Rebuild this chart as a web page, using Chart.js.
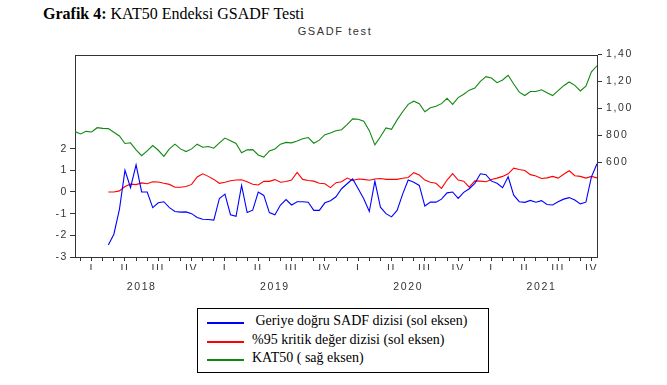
<!DOCTYPE html>
<html>
<head>
<meta charset="utf-8">
<script src="https://cdn.jsdelivr.net/npm/chart.js@4.4.1/dist/chart.umd.min.js"></script>
<style>
  body { margin: 0; background: #fff; width: 667px; height: 385px; position: relative; overflow: hidden; }
  #ttl { position: absolute; left: 43px; top: 5px; font: 16px "Liberation Serif", serif; color: #000; white-space: nowrap; }
  #sub { position: absolute; left: 0; width: 670px; top: 25px; text-align: center; font: 11px "Liberation Sans", sans-serif; letter-spacing: 1.6px; color: #333; }
  #wrap { position: absolute; left: 0; top: 0; width: 667px; height: 300px; }
  #leg { position: absolute; left: 197px; top: 308px; width: 292px; height: 65px; border: 1px solid #000; box-sizing: border-box; font: 14px "Liberation Serif", serif; color: #000; }
  .row { position: absolute; left: 0; height: 18px; white-space: nowrap; }
  .row span.ln { position: absolute; left: 9px; top: 9px; width: 37px; height: 1.6px; }
  .row span.tx { position: absolute; left: 54px; top: 0; }
</style>
</head>
<body>
<div id="ttl"><b>Grafik 4:</b> KAT50 Endeksi GSADF Testi</div>
<div id="sub">GSADF test</div>
<div id="wrap"><canvas id="c" width="667" height="300"></canvas></div>
<div id="leg">
  <div class="row" style="top:4px"><span class="ln" style="background:#0000ff"></span><span class="tx">&nbsp;Geriye doğru SADF dizisi (sol eksen)</span></div>
  <div class="row" style="top:23px"><span class="ln" style="background:#ff0000"></span><span class="tx">%95 kritik değer dizisi (sol eksen)</span></div>
  <div class="row" style="top:41px"><span class="ln" style="background:#118811"></span><span class="tx">KAT50 ( sağ eksen)</span></div>
</div>
<script>
// half-month steps starting Jan 2018
const STEP = 0.5;
const quarterLabels = ["I", "II", "III", "IV"];
const yearLabels = ["2018", "2019", "2020", "2021"];
const rightTicks = [600, 800, 1000, 1200, 1400];
const rightLabels = ["600", "800", "1,00", "1,20", "1,40"];
const leftTicks = [-3, -2, -1, 0, 1, 2];

// KAT50 (right axis)
const kat50 = [
  828, 811, 830, 825, 857, 852, 850, 823, 796, 740,
  745, 693, 650, 685, 725, 690, 645, 700, 735, 700,
  680, 700, 735, 712, 718, 705, 745, 780, 760, 740,
  672, 693, 695, 655, 640, 685, 700, 735, 748, 745,
  759, 775, 784, 742, 765, 805, 818, 835, 842, 880,
  922, 920, 905, 835, 730, 790, 855, 845, 915, 975,
  1030, 1053, 1035, 975, 1005, 1015, 1035, 1075, 1030, 1080,
  1105, 1135, 1150, 1200, 1235, 1225, 1190, 1210, 1245, 1180,
  1120, 1095, 1125, 1125, 1138, 1115, 1095, 1132, 1168, 1195,
  1170, 1129, 1165, 1270, 1315
];

// %95 critical values (left axis)
const critical = [
  null, null, null, null, null, null, 0.0, 0.0, 0.05, 0.25,
  0.36, 0.34, 0.42, 0.38, 0.47, 0.46, 0.40, 0.35, 0.22, 0.22,
  0.25, 0.35, 0.69, 0.84, 0.72, 0.58, 0.40, 0.45, 0.52, 0.55,
  0.56, 0.47, 0.36, 0.32, 0.49, 0.49, 0.57, 0.45, 0.48, 0.55,
  0.90, 0.58, 0.53, 0.50, 0.40, 0.38, 0.20, 0.43, 0.47, 0.64,
  0.53, 0.60, 0.58, 0.54, 0.60, 0.62, 0.58, 0.58, 0.58, 0.63,
  0.67, 0.89, 0.78, 0.55, 0.45, 0.40, 0.17, 0.55, 0.85, 0.55,
  0.50, 0.22, 0.51, 0.50, 0.47, 0.58, 0.64, 0.72, 0.84, 1.10,
  1.04, 0.99, 0.80, 0.74, 0.62, 0.65, 0.72, 0.64, 0.82, 0.98,
  0.75, 0.72, 0.64, 0.72, 0.65
];

// backward SADF (left axis)
const bsadf = [
  null, null, null, null, null, null, -2.45, -1.95, -0.8, 1.0,
  0.2, 1.25, 0.0, 0.0, -0.72, -0.5, -0.45, -0.72, -0.9, -0.93,
  -0.92, -1.0, -1.18, -1.26, -1.27, -1.3, -0.3, -0.1, -1.05, -1.12,
  0.3, -0.95, -0.84, 0.0, -0.16, -0.95, -1.05, -0.6, -0.35, -0.6,
  -0.45, -0.45, -0.47, -0.85, -0.85, -0.5, -0.4, -0.22, 0.15, 0.38,
  0.6, 0.15, -0.31, -0.9, 0.5, -0.7, -1.0, -1.15, -0.85, -0.1,
  0.55, 0.45, 0.3, -0.65, -0.47, -0.47, -0.33, -0.04, 0.0, -0.3,
  -0.02, 0.15, 0.4, 0.84, 0.8, 0.5, 0.4, 0.2, 0.7, -0.15,
  -0.45, -0.48, -0.39, -0.47, -0.4, -0.58, -0.6, -0.45, -0.33, -0.26,
  -0.37, -0.55, -0.47, 0.7, 1.3
];

function pts(arr) {
  return arr.map((v, i) => ({ x: i * STEP, y: v }));
}

const monthTicks = [];
for (let m = 0; m < 47; m++) monthTicks.push({ value: m + 0.5 });
const yearTicks = yearLabels.map((y, i) => ({ value: i * 12 + 6 }));

const tickFont = { family: "Liberation Sans", size: 10.5 };
const axisCol = "#333";

const boxPlugin = {
  id: "box",
  beforeDraw(chart) { chart.ctx.letterSpacing = "1.6px"; },
  afterDraw(chart) {
    const a = chart.chartArea, ctx = chart.ctx;
    ctx.save();
    ctx.strokeStyle = axisCol;
    ctx.lineWidth = 1;
    ctx.beginPath();
    ctx.moveTo(a.left, a.top + 0.5);
    ctx.lineTo(a.right, a.top + 0.5);
    ctx.stroke();
    ctx.restore();
  }
};

new Chart(document.getElementById("c"), {
  type: "line",
  data: {
    datasets: [
      { label: "Geriye doğru SADF dizisi (sol eksen)", data: pts(bsadf), borderColor: "#0000ff", yAxisID: "y" },
      { label: "%95 kritik değer dizisi (sol eksen)", data: pts(critical), borderColor: "#ff0000", yAxisID: "y" },
      { label: "KAT50 ( sağ eksen)", data: pts(kat50), borderColor: "#118811", yAxisID: "y1" }
    ]
  },
  options: {
    responsive: false,
    animation: false,
    spanGaps: false,
    layout: { padding: { top: 55, left: 0, right: 0, bottom: 0 } },
    elements: { point: { radius: 0 }, line: { borderWidth: 1.1, tension: 0 } },
    plugins: { legend: { display: false }, tooltip: { enabled: false } },
    scales: {
      x: {
        type: "linear", position: "bottom", min: 0, max: 47, weight: 1,
        afterBuildTicks: (s) => { s.ticks = monthTicks.slice(); },
        afterFit: (s) => { s.height = 13; },
        grid: { drawOnChartArea: false, tickLength: 4, color: axisCol },
        border: { color: axisCol },
        ticks: {
          autoSkip: false, maxRotation: 0, padding: 2, color: axisCol, font: tickFont,
          callback: (v) => { const m = Math.round(v - 0.5); return m % 3 === 1 ? quarterLabels[(m - 1) / 3 % 4] : ""; }
        }
      },
      x2: {
        type: "linear", position: "bottom", min: 0, max: 47, weight: 2,
        afterBuildTicks: (s) => { s.ticks = yearTicks.slice(); },
        afterFit: (s) => { s.height = 30; },
        grid: { display: false },
        border: { display: false },
        ticks: {
          autoSkip: false, maxRotation: 0, padding: 3, color: axisCol, font: tickFont,
          callback: (v) => yearLabels[(v - 6) / 12]
        }
      },
      y: {
        position: "left", min: -3, max: 6.32,
        afterBuildTicks: (s) => { s.ticks = leftTicks.map((v) => ({ value: v })); },
        afterFit: (s) => { s.width = 75; },
        grid: { drawOnChartArea: false, tickLength: 5, color: axisCol },
        border: { color: axisCol },
        ticks: { padding: 2, color: axisCol, font: tickFont }
      },
      y1: {
        position: "right", min: -100, max: 1395,
        afterBuildTicks: (s) => { s.ticks = rightTicks.map((v) => ({ value: v })); },
        afterFit: (s) => { s.width = 70; },
        grid: { drawOnChartArea: false, tickLength: 5, color: axisCol },
        border: { color: axisCol },
        ticks: { padding: 4, color: axisCol, font: tickFont, callback: (v) => rightLabels[rightTicks.indexOf(v)] }
      }
    }
  },
  plugins: [boxPlugin]
});
</script>
</body>
</html>
